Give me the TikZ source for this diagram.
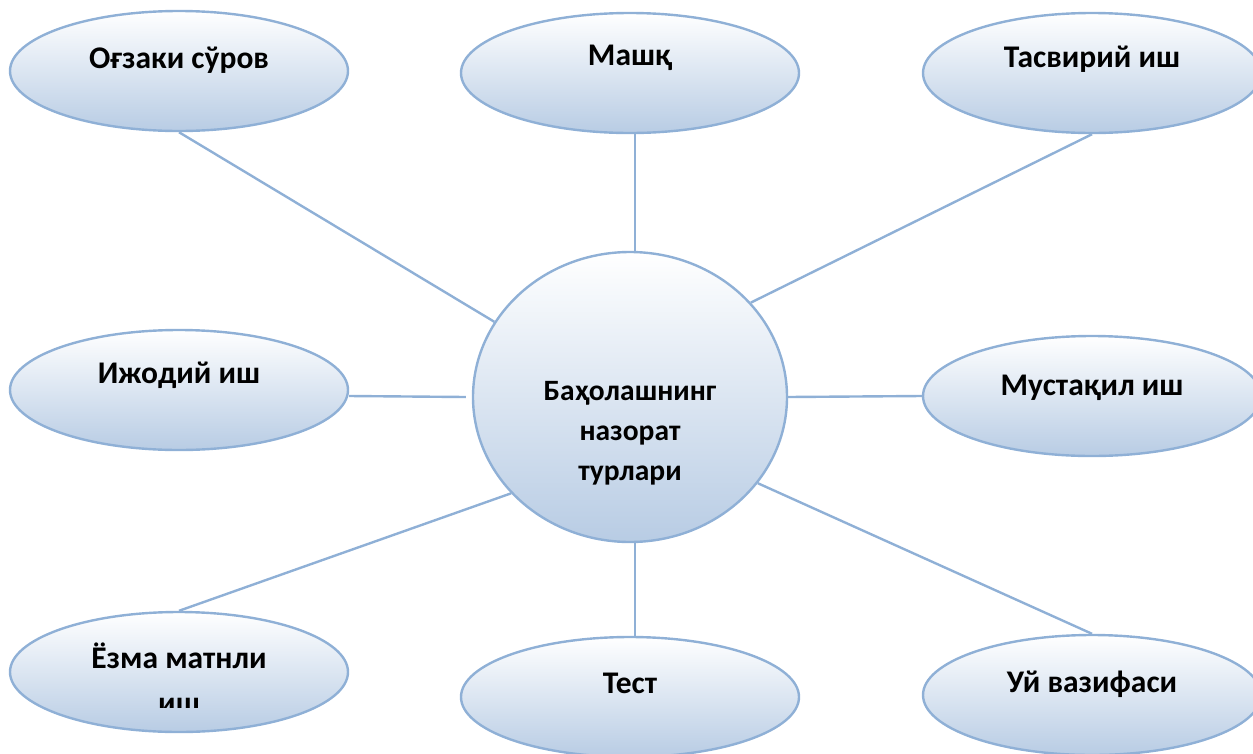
\documentclass[tikz,border=0pt]{standalone}
\usepackage{fontspec}
\setmainfont{Carlito}
\usetikzlibrary{shapes.geometric,calc}
\definecolor{edgeblue}{RGB}{143,176,214}
\definecolor{fillblue}{RGB}{184,204,228}
\tikzset{
  leaf/.style={ellipse, draw=edgeblue, line width=2.4pt, top color=white, bottom color=fillblue,
    minimum width=338pt, minimum height=120pt, inner sep=0pt},
  hub/.style={ellipse, draw=edgeblue, line width=2.4pt, top color=white, bottom color=fillblue,
    minimum width=314pt, minimum height=290pt, inner sep=0pt},
  lbl/.style={anchor=base, font=\fontsize{31.5}{38}\selectfont\bfseries, inner sep=0pt},
  hublbl/.style={font=\fontsize{29.5}{40}\selectfont\bfseries, align=center, inner sep=0pt},
  link/.style={draw=edgeblue, line width=2.4pt}
}
\begin{document}
\begin{tikzpicture}[x=1pt,y=-1pt]
\useasboundingbox (0,0) rectangle (1253,753);
\clip (0,0) rectangle (1253,753);
\node[leaf] (oz) at (179,71) {};
\node[leaf] (ma) at (630,73) {};
\node[leaf] (ta) at (1092,73) {};
\node[leaf] (ij) at (179,390) {};
\node[leaf] (mu) at (1092,396) {};
\node[leaf] (yo) at (179,672) {};
\node[leaf] (te) at (630,697) {};
\node[leaf] (uy) at (1092,695) {};
\node[hub] (c) at (630,397) {};
\draw[link] (oz.south) -- (c.151);
\draw[link] ([xshift=5pt]ma.south) -- ([xshift=5pt]c.north);
\draw[link] (ta.south) -- (c.38);
\draw[link] ([yshift=-6pt]ij.east) -- ([xshift=-6pt,yshift=0pt]c.west);
\draw[link] (c.east) -- (mu.west);
\draw[link] (yo.north) -- (c.219);
\draw[link] ([xshift=5pt]c.south) -- ([xshift=5pt]te.north);
\draw[link] (c.326) -- (uy.north);
\node[lbl] (toz) at (179,68) {Оғзаки сўров};
\node[lbl] (tma) at (630,65) {Машқ};
\node[lbl] (tta) at (1092,67) {Тасвирий иш};
\node[lbl] (tij) at (179,383) {Ижодий иш};
\node[lbl] (tmu) at (1092,395) {Мустақил иш};
\begin{scope}
\clip (0,600) rectangle (1253,707);
\node[lbl] (tyo) at (179,668) {Ёзма матнли};
\node[lbl] (tyo2) at (179,713) {иш};
\end{scope}
\node[lbl] (tte) at (630,693) {Тест};
\node[lbl] (tuy) at (1092,692) {Уй вазифаси};
\node[hublbl, anchor=base] (tc) at (630,480) {Баҳолашнинг\\назорат\\турлари};
\end{tikzpicture}
\end{document}
